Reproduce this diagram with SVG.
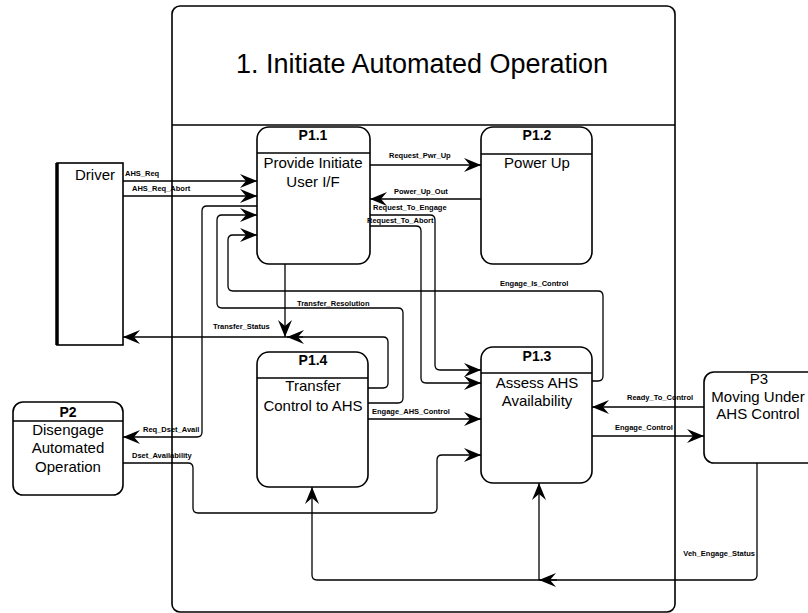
<svg xmlns="http://www.w3.org/2000/svg" width="808" height="613" viewBox="0 0 808 613">
<defs>
<marker id="ah" viewBox="0 0 17 14" refX="17" refY="7" markerWidth="17" markerHeight="14" markerUnits="userSpaceOnUse" orient="auto">
<path d="M0,0 L17,7 L0,14 L6,7 Z" fill="#000"/>
</marker>
<style>
.box{fill:#fff;stroke:#000;stroke-width:1.6}
.hdr{stroke:#000;stroke-width:1.3}
.ttl{font-family:"Liberation Sans",Arial,sans-serif;font-size:15px;text-anchor:middle;fill:#000}
.pid{font-family:"Liberation Sans",Arial,sans-serif;font-size:14px;font-weight:bold;text-anchor:middle;fill:#000}
.c{fill:none;stroke:#000;stroke-width:1.3}
.a{marker-end:url(#ah)}
.lb{font-family:"Liberation Sans",Arial,sans-serif;font-size:7.5px;font-weight:bold;fill:#000}
</style>
</defs>
<rect width="808" height="613" fill="#fff"/>

<g id="frame">
<rect x="172" y="6" width="503" height="606" rx="8" class="box" fill="none"/>
<line x1="172" y1="125" x2="675" y2="125" class="hdr"/>
<text x="422" y="73" font-family="Liberation Sans, Arial, sans-serif" font-size="27" text-anchor="middle">1. Initiate Automated Operation</text>
</g>

<g id="driver">
<rect x="57" y="163" width="66" height="182" class="box"/>
<line x1="57" y1="163" x2="57" y2="345" stroke="#000" stroke-width="3.5"/>
<text x="95" y="180" class="ttl" font-size="16">Driver</text>
</g>

<g id="p1_1">
<rect x="257" y="127" width="113" height="137" rx="12" class="box"/>
<line x1="257" y1="153" x2="370" y2="153" class="hdr"/>
<text x="313" y="140" class="pid">P1.1</text>
<text x="313" y="168" class="ttl">Provide Initiate</text>
<text x="313" y="187" class="ttl">User I/F</text>
</g>

<g id="p1_2">
<rect x="481" y="127" width="111" height="137" rx="12" class="box"/>
<line x1="481" y1="154" x2="592" y2="154" class="hdr"/>
<text x="537" y="140" class="pid">P1.2</text>
<text x="537" y="168" class="ttl">Power Up</text>
</g>

<g id="p1_3">
<rect x="481" y="347" width="111" height="136" rx="12" class="box"/>
<line x1="481" y1="373" x2="592" y2="373" class="hdr"/>
<text x="537" y="361" class="pid">P1.3</text>
<text x="537" y="388" class="ttl">Assess AHS</text>
<text x="537" y="406" class="ttl">Availability</text>
</g>

<g id="p1_4">
<rect x="257" y="352" width="111" height="135" rx="12" class="box"/>
<line x1="257" y1="378" x2="368" y2="378" class="hdr"/>
<text x="313" y="365" class="pid">P1.4</text>
<text x="313" y="391" class="ttl">Transfer</text>
<text x="313" y="411" class="ttl">Control to AHS</text>
</g>

<g id="p2">
<rect x="13" y="402" width="110" height="93" rx="10" class="box"/>
<line x1="13" y1="421" x2="123" y2="421" class="hdr"/>
<text x="68" y="417" class="pid" font-weight="normal">P2</text>
<text x="68" y="435" class="ttl">Disengage</text>
<text x="68" y="453" class="ttl">Automated</text>
<text x="68" y="472" class="ttl">Operation</text>
</g>

<g id="p3">
<rect x="704" y="372" width="120" height="91" rx="10" class="box"/>
<text x="759" y="384" class="ttl" font-size="14">P3</text>
<text x="758" y="402" class="ttl" font-size="14">Moving Under</text>
<text x="758" y="419" class="ttl" font-size="14.5">AHS Control</text>
</g>

<g id="connectors">
<path class="c a" d="M123,181 H257"/>
<path class="c a" d="M123,196 H257"/>
<path class="c a" d="M257,206 H207 Q202,206 202,211 V432 Q202,437 197,437 H123"/>
<path class="c a" d="M368,403 H398 Q403,403 403,398 V313 Q403,308 398,308 H222 Q217,308 217,303 V220 Q217,215 222,215 H257"/>
<path class="c a" d="M592,381 H598 Q603,381 603,376 V296 Q603,291 598,291 H233 Q228,291 228,286 V240 Q228,235 233,235 H257"/>
<path class="c a" d="M368,388 H383 Q388,388 388,383 V342 Q388,337 383,337 H123"/>
<path class="c a" d="M303,337 H287"/>
<path class="c a" d="M285,264 V337"/>
<path class="c a" d="M370,165 H481"/>
<path class="c a" d="M481,199 H370"/>
<path class="c a" d="M370,215 H430 Q435,215 435,220 V365 Q435,370 440,370 H481"/>
<path class="c a" d="M370,226 H416 Q421,226 421,231 V378 Q421,383 426,383 H481"/>
<path class="c a" d="M368,419 H481"/>
<path class="c a" d="M123,463 H188 Q193,463 193,468 V508 Q193,513 198,513 H432 Q437,513 437,508 V460 Q437,455 442,455 H481"/>
<path class="c a" d="M704,407 H592"/>
<path class="c a" d="M592,436 H704"/>
<path class="c a" d="M757,463 V575 Q757,580 752,580 H317 Q312,580 312,575 V487"/>
<path class="c a" d="M557,580 H539"/>
<path class="c a" d="M539,580 V483"/>
</g>

<g id="labels">
<text class="lb" x="125" y="176">AHS_Req</text>
<text class="lb" x="132" y="191">AHS_Req_Abort</text>
<text class="lb" x="389" y="158">Request_Pwr_Up</text>
<text class="lb" x="394" y="194">Power_Up_Out</text>
<text class="lb" x="373" y="210">Request_To_Engage</text>
<text class="lb" x="367" y="223">Request_To_Abort</text>
<text class="lb" x="500" y="286">Engage_Is_Control</text>
<text class="lb" x="297" y="306">Transfer_Resolution</text>
<text class="lb" x="213" y="329">Transfer_Status</text>
<text class="lb" x="372" y="414">Engage_AHS_Control</text>
<text class="lb" x="627" y="400">Ready_To_Control</text>
<text class="lb" x="615" y="430">Engage_Control</text>
<text class="lb" x="143" y="432">Req_Dset_Avail</text>
<text class="lb" x="132" y="458">Dset_Availability</text>
<text class="lb" x="755" y="556" text-anchor="end">Veh_Engage_Status</text>
</g>
</svg>
